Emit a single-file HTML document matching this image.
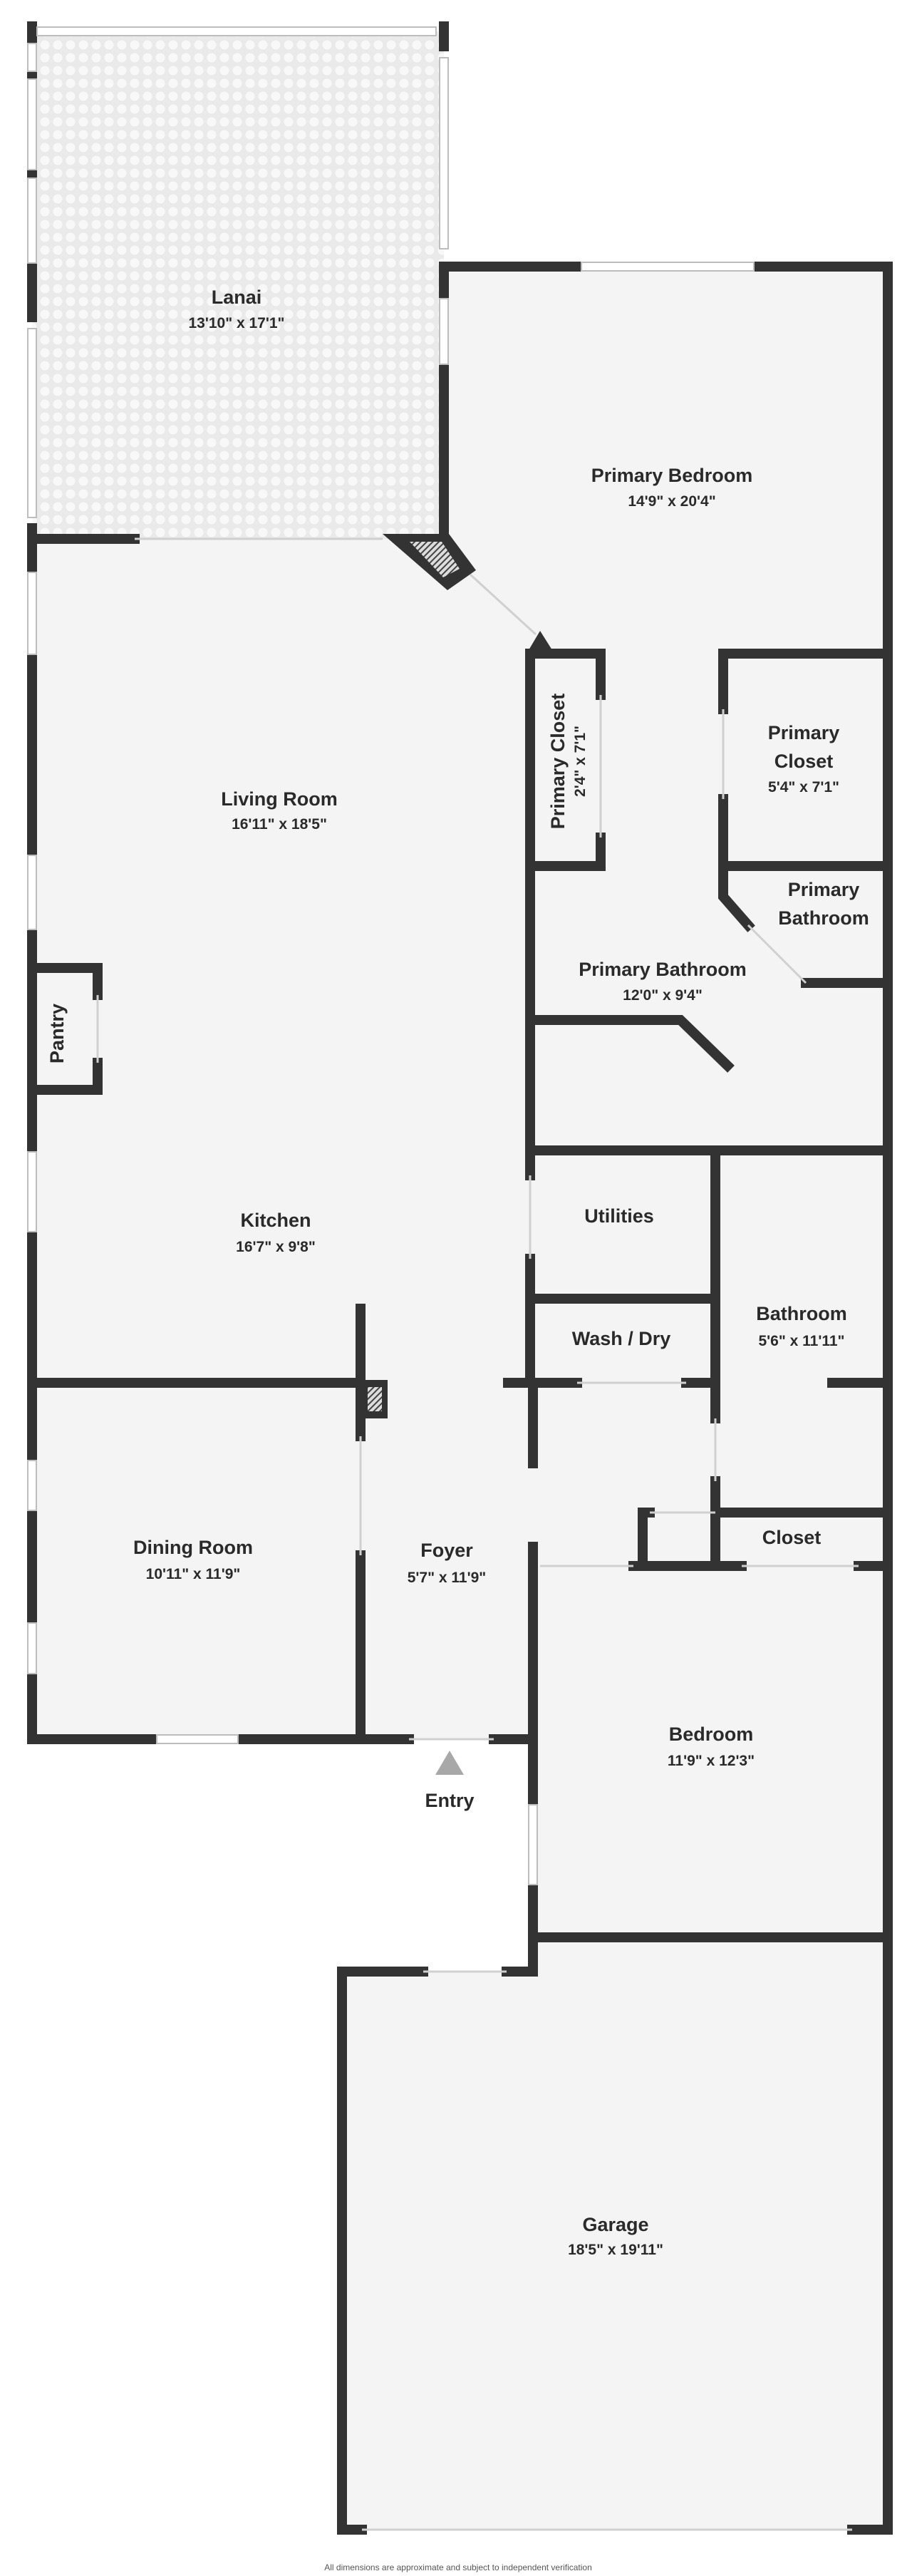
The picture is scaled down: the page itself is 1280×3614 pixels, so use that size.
<!DOCTYPE html>
<html><head><meta charset="utf-8"><style>
html,body{margin:0;padding:0;background:#fff;}
svg{display:block}
text{font-family:"Liberation Sans",sans-serif;fill:#2a2a2a;text-anchor:middle}
.n{font-size:27px;font-weight:bold}
.d{font-size:21px;font-weight:bold}
</style></head><body>
<svg width="1280" height="3614" viewBox="0 0 1280 3614" xmlns="http://www.w3.org/2000/svg">
<defs>
<pattern id="dots" width="18" height="18" patternUnits="userSpaceOnUse">
<rect width="18" height="18" fill="#eaeaea"/>
<circle cx="9" cy="9" r="6.5" fill="#f8f8f8"/>
</pattern>
<pattern id="hatch" width="6" height="6" patternUnits="userSpaceOnUse" patternTransform="rotate(45)">
<rect width="6" height="6" fill="#ddd"/><rect width="2" height="6" fill="#444"/>
</pattern>
</defs>
<rect x="45" y="44" width="578" height="712" fill="url(#dots)"/>
<polygon points="623,367 1246,367 1246,3549 480,3549 480,2766 748,2766 748,2440 45,2440 45,756 623,756" fill="#f4f4f4"/>

<g stroke="#333" stroke-width="14" stroke-linecap="square" fill="none">
<line x1="45" y1="37" x2="45" y2="61"/><line x1="45" y1="100" x2="45" y2="111"/><line x1="45" y1="238" x2="45" y2="250"/><line x1="45" y1="369" x2="45" y2="445"/><line x1="45" y1="741" x2="45" y2="803"/>
<line x1="623" y1="37" x2="623" y2="65"/>
<line x1="45" y1="918" x2="45" y2="1200"/><line x1="45" y1="1304" x2="45" y2="1616"/><line x1="45" y1="1728" x2="45" y2="2049"/><line x1="45" y1="2119" x2="45" y2="2277"/><line x1="45" y1="2348" x2="45" y2="2440"/>
<line x1="45" y1="756" x2="189" y2="756"/>
<line x1="623" y1="374" x2="816" y2="374"/><line x1="1058" y1="374" x2="1246" y2="374"/>
<line x1="623" y1="374" x2="623" y2="419"/><line x1="623" y1="511" x2="623" y2="756"/>
<line x1="1246" y1="374" x2="1246" y2="3549"/>
<line x1="744" y1="917" x2="843" y2="917"/>
<line x1="744" y1="917" x2="744" y2="1649"/><line x1="744" y1="1766" x2="744" y2="1940"/>
<line x1="843" y1="917" x2="843" y2="975"/><line x1="843" y1="1175" x2="843" y2="1215"/>
<line x1="744" y1="1215" x2="843" y2="1215"/>
<line x1="1015" y1="917" x2="1246" y2="917"/>
<line x1="1015" y1="917" x2="1015" y2="995"/>
<polyline points="1015,1121 1015,1258 1050,1298"/>
<line x1="1015" y1="1215" x2="1246" y2="1215"/>
<line x1="1131" y1="1379" x2="1246" y2="1379"/>
<polyline points="744,1431 955,1431 1021,1495"/>
<line x1="744" y1="1614" x2="1246" y2="1614"/>
<line x1="1004" y1="1614" x2="1004" y2="1990"/><line x1="1004" y1="2078" x2="1004" y2="2197"/>
<line x1="744" y1="1822" x2="1004" y2="1822"/>
<line x1="713" y1="1940" x2="810" y2="1940"/><line x1="963" y1="1940" x2="1004" y2="1940"/>
<line x1="748" y1="1940" x2="748" y2="2053"/>
<line x1="1168" y1="1940" x2="1246" y2="1940"/>
<line x1="1004" y1="2122" x2="1246" y2="2122"/>
<line x1="902" y1="2122" x2="902" y2="2197"/>
<line x1="902" y1="2122" x2="912" y2="2122"/>
<line x1="889" y1="2197" x2="1041" y2="2197"/><line x1="1205" y1="2197" x2="1246" y2="2197"/>
<line x1="748" y1="2170" x2="748" y2="2532"/><line x1="748" y1="2644" x2="748" y2="2766"/>
<line x1="748" y1="2718" x2="1246" y2="2718"/>
<line x1="480" y1="2766" x2="594" y2="2766"/><line x1="711" y1="2766" x2="748" y2="2766"/>
<line x1="480" y1="2766" x2="480" y2="3549"/>
<line x1="480" y1="3549" x2="508" y2="3549"/><line x1="1196" y1="3549" x2="1246" y2="3549"/>
<line x1="45" y1="1940" x2="506" y2="1940"/>
<line x1="506" y1="1836" x2="506" y2="2015"/><line x1="506" y1="2182" x2="506" y2="2440"/>
<line x1="45" y1="2440" x2="220" y2="2440"/><line x1="334" y1="2440" x2="574" y2="2440"/><line x1="693" y1="2440" x2="748" y2="2440"/>
<polyline points="45,1358 137,1358 137,1396"/><polyline points="137,1491 137,1529 45,1529"/>
</g>
<rect x="506" y="1936" width="38" height="54" fill="#333"/><rect x="516" y="1946" width="20" height="34" fill="url(#hatch)"/>
<polygon points="537,749 630,749 668,800 628,828" fill="#333"/>
<polygon points="575,760 620,760 645,798 622,810" fill="url(#hatch)"/>
<polygon points="742,912 758,885 775,912" fill="#333"/>

<g stroke="#bdbdbd" stroke-width="2" fill="#fff">
<rect x="52" y="38" width="560" height="12"/>
<rect x="39" y="61" width="12" height="39"/><rect x="39" y="111" width="12" height="127"/><rect x="39" y="250" width="12" height="119"/><rect x="39" y="461" width="12" height="265"/>
<rect x="617" y="81" width="12" height="268"/>
<rect x="617" y="419" width="12" height="92"/>
<rect x="816" y="368" width="242" height="12"/>
<rect x="39" y="803" width="12" height="115"/><rect x="39" y="1200" width="12" height="104"/><rect x="39" y="1616" width="12" height="112"/><rect x="39" y="2049" width="12" height="70"/><rect x="39" y="2277" width="12" height="71"/>
<rect x="220" y="2434" width="114" height="12"/>
<rect x="742" y="2532" width="12" height="112"/>
</g>
<g stroke="#d0d0d0" stroke-width="3">
<line x1="189" y1="756" x2="537" y2="756"/>
<line x1="660" y1="806" x2="752" y2="890"/>
<line x1="1050" y1="1298" x2="1131" y2="1379"/>
<line x1="843" y1="975" x2="843" y2="1175"/>
<line x1="1015" y1="995" x2="1015" y2="1121"/>
<line x1="744" y1="1649" x2="744" y2="1766"/>
<line x1="810" y1="1940" x2="963" y2="1940"/>
<line x1="1004" y1="1990" x2="1004" y2="2078"/>
<line x1="912" y1="2122" x2="1004" y2="2122"/>
<line x1="758" y1="2197" x2="889" y2="2197"/>
<line x1="1041" y1="2197" x2="1205" y2="2197"/>
<line x1="506" y1="2015" x2="506" y2="2182"/>
<line x1="137" y1="1396" x2="137" y2="1491"/>
<line x1="574" y1="2440" x2="693" y2="2440"/>
<line x1="594" y1="2766" x2="711" y2="2766"/>
<line x1="508" y1="3549" x2="1196" y2="3549"/>
</g>
<polygon points="631,2456 611,2490 651,2490" fill="#a8a8a8"/>

<text class="n" x="332" y="426">Lanai</text><text class="d" x="332" y="460">13'10" x 17'1"</text>
<text class="n" x="943" y="676">Primary Bedroom</text><text class="d" x="943" y="710">14'9" x 20'4"</text>
<text class="n" x="392" y="1130">Living Room</text><text class="d" x="392" y="1163">16'11" x 18'5"</text>
<text class="n" x="783" y="1068" transform="rotate(-90 783 1068)" dy="9">Primary Closet</text>
<text class="d" x="814" y="1068" transform="rotate(-90 814 1068)" dy="7">2'4" x 7'1"</text>
<text class="n" x="1128" y="1037">Primary</text><text class="n" x="1128" y="1077">Closet</text><text class="d" x="1128" y="1111">5'4" x 7'1"</text>
<text class="n" x="1156" y="1257">Primary</text><text class="n" x="1156" y="1297">Bathroom</text>
<text class="n" x="930" y="1369">Primary Bathroom</text><text class="d" x="930" y="1403">12'0" x 9'4"</text>
<text class="n" x="80" y="1450" transform="rotate(-90 80 1450)" dy="9">Pantry</text>
<text class="n" x="387" y="1721">Kitchen</text><text class="d" x="387" y="1756">16'7" x 9'8"</text>
<text class="n" x="869" y="1715">Utilities</text>
<text class="n" x="1125" y="1852">Bathroom</text><text class="d" x="1125" y="1888">5'6" x 11'11"</text>
<text class="n" x="872" y="1887">Wash / Dry</text>
<text class="n" x="1111" y="2166">Closet</text>
<text class="n" x="271" y="2180">Dining Room</text><text class="d" x="271" y="2215">10'11" x 11'9"</text>
<text class="n" x="627" y="2184">Foyer</text><text class="d" x="627" y="2220">5'7" x 11'9"</text>
<text class="n" x="998" y="2442">Bedroom</text><text class="d" x="998" y="2477">11'9" x 12'3"</text>
<text class="n" x="631" y="2535">Entry</text>
<text class="n" x="864" y="3130">Garage</text><text class="d" x="864" y="3163">18'5" x 19'11"</text>
<text x="643" y="3606" style="font-size:12px;fill:#555">All dimensions are approximate and subject to independent verification</text>
</svg>
</body></html>
